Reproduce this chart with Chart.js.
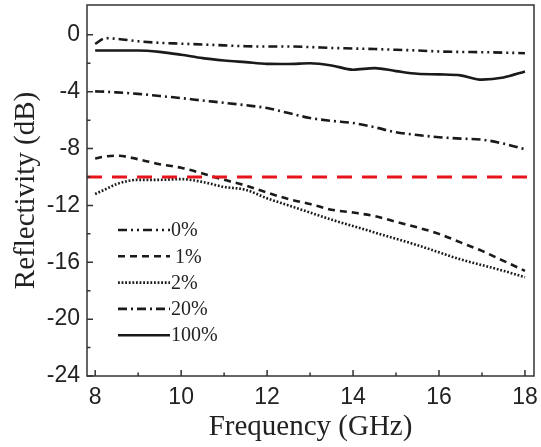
<!DOCTYPE html>
<html><head><meta charset="utf-8">
<script src="https://cdn.jsdelivr.net/npm/chart.js@4.4.1/dist/chart.umd.min.js"></script>
<style>html,body{margin:0;padding:0;background:#fff;}canvas{display:block}</style>
</head><body>
<canvas id="c" width="541" height="447"></canvas>
<script>
// ---- data ----
const freq = [8, 8.25, 8.5, 9, 9.5, 10, 10.5, 11, 11.5, 12, 12.5, 13, 13.5, 14, 14.5, 15, 15.5, 16, 16.5, 17, 17.5, 18];
const r0   = [-0.63, -0.23, -0.28, -0.45, -0.56, -0.62, -0.68, -0.74, -0.8, -0.82, -0.82, -0.86, -0.92, -0.96, -1.0, -1.05, -1.1, -1.17, -1.2, -1.22, -1.25, -1.29];
const r1   = [-8.7, -8.55, -8.5, -8.75, -9.1, -9.35, -9.75, -10.2, -10.6, -11.1, -11.55, -11.9, -12.3, -12.5, -12.75, -13.15, -13.55, -14.0, -14.6, -15.2, -15.9, -16.6];
const r2   = [-11.2, -10.85, -10.5, -10.2, -10.2, -10.15, -10.35, -10.7, -10.9, -11.5, -12.0, -12.5, -13.0, -13.45, -13.9, -14.35, -14.8, -15.3, -15.8, -16.2, -16.6, -17.05];
const r20  = [-3.98, -4.0, -4.05, -4.15, -4.3, -4.45, -4.62, -4.78, -4.95, -5.15, -5.5, -5.85, -6.05, -6.2, -6.5, -6.85, -7.05, -7.2, -7.3, -7.37, -7.65, -8.05];
const r100 = [-1.1, -1.1, -1.1, -1.1, -1.2, -1.4, -1.64, -1.8, -1.92, -2.04, -2.05, -2.0, -2.15, -2.45, -2.34, -2.55, -2.74, -2.78, -2.85, -3.15, -3.0, -2.57];
const seriesNames = ['0%', '1%', '2%', '20%', '100%'];
const refLevel = -10;
const refX = [7.81, 18.21];
const xTicks = [8, 10, 12, 14, 16, 18];
const xMinorTicks = [9, 11, 13, 15, 17];
const yTicks = [0, -4, -8, -12, -16, -20, -24];
const yMinorTicks = [-2, -6, -10, -14, -18, -22];

const seriesValues = [r0, r1, r2, r20, r100];
const dashes = [[9, 4, 2, 4, 2, 4], [7, 5], [1.8, 1.8], [9, 4, 2, 4], []];
const ink = '#1a1a1a';

const datasets = [{
  label: 'ref',
  data: refX.map(x => ({x, y: refLevel})),
  borderColor: '#e8141b', borderWidth: 3, borderDash: [15, 10],
  pointRadius: 0, tension: 0, order: 0
}];
seriesValues.forEach((vals, i) => {
  datasets.push({
    label: seriesNames[i],
    data: freq.map((x, k) => ({x, y: vals[k]})),
    borderColor: ink, borderWidth: 2.6, borderDash: dashes[i],
    pointRadius: 0, tension: 0.4, cubicInterpolationMode: 'monotone', order: 1 + i
  });
});

const deco = {
  id: 'deco',
  afterDraw(chart) {
    const {ctx, chartArea: a, scales: {x, y}} = chart;
    ctx.save();
    ctx.strokeStyle = '#333';
    ctx.lineWidth = 1.5;
    ctx.setLineDash([]);
    ctx.strokeRect(a.left, a.top, a.right - a.left, a.bottom - a.top);
    ctx.beginPath();
    xTicks.forEach(v => { const p = x.getPixelForValue(v); ctx.moveTo(p, a.bottom); ctx.lineTo(p, a.bottom - 6); });
    xMinorTicks.forEach(v => { const p = x.getPixelForValue(v); ctx.moveTo(p, a.bottom); ctx.lineTo(p, a.bottom - 3.5); });
    yTicks.forEach(v => { const p = y.getPixelForValue(v); ctx.moveTo(a.left, p); ctx.lineTo(a.left + 6, p); });
    yMinorTicks.forEach(v => { const p = y.getPixelForValue(v); ctx.moveTo(a.left, p); ctx.lineTo(a.left + 3.5, p); });
    ctx.stroke();
    // legend
    const lx0 = 118, lx1 = 170, ly0 = 230, dy = 26.3;
    ctx.font = '20px "Liberation Serif", "Times New Roman", serif';
    ctx.fillStyle = '#222';
    ctx.textBaseline = 'middle';
    seriesNames.forEach((name, i) => {
      const ly = ly0 + i * dy;
      ctx.strokeStyle = ink;
      ctx.lineWidth = 2.6;
      ctx.setLineDash(dashes[i]);
      ctx.beginPath(); ctx.moveTo(lx0, ly); ctx.lineTo(lx1, ly); ctx.stroke();
      ctx.fillText(name, i === 1 ? 175 : 171, ly + 1);
    });
    ctx.restore();
  }
};

new Chart(document.getElementById('c'), {
  type: 'line',
  data: {datasets},
  options: {
    responsive: false, animation: false, devicePixelRatio: 1,
    layout: {padding: {top: 5, right: 7, bottom: 0, left: 0}},
    plugins: {legend: {display: false}, tooltip: {enabled: false}},
    scales: {
      x: {
        type: 'linear', min: 7.81, max: 18.21,
        afterBuildTicks: s => { s.ticks = xTicks.map(v => ({value: v})); },
        afterFit: s => { s.height = 71; s.paddingLeft = 0; s.paddingRight = 0; },
        grid: {display: false, drawTicks: false},
        border: {display: false},
        ticks: {padding: 8, color: '#222', font: {family: '"Liberation Sans", Arial, sans-serif', size: 23}},
        title: {display: true, text: 'Frequency (GHz)', color: '#222', padding: {top: 0, bottom: 2},
                font: {family: '"Liberation Serif", "Times New Roman", serif', size: 29}}
      },
      y: {
        type: 'linear', min: -24, max: 2.1,
        afterBuildTicks: s => { s.ticks = yTicks.map(v => ({value: v})); },
        afterFit: s => { s.width = 87; s.paddingTop = 0; s.paddingBottom = 0; },
        grid: {display: false, drawTicks: false},
        border: {display: false},
        ticks: {padding: 7, color: '#222', font: {family: '"Liberation Sans", Arial, sans-serif', size: 23}},
        title: {display: true, text: 'Reflectivity (dB)', color: '#222', padding: {top: 9, bottom: 0},
                font: {family: '"Liberation Serif", "Times New Roman", serif', size: 29}}
      }
    }
  },
  plugins: [deco]
});
</script>
</body></html>
